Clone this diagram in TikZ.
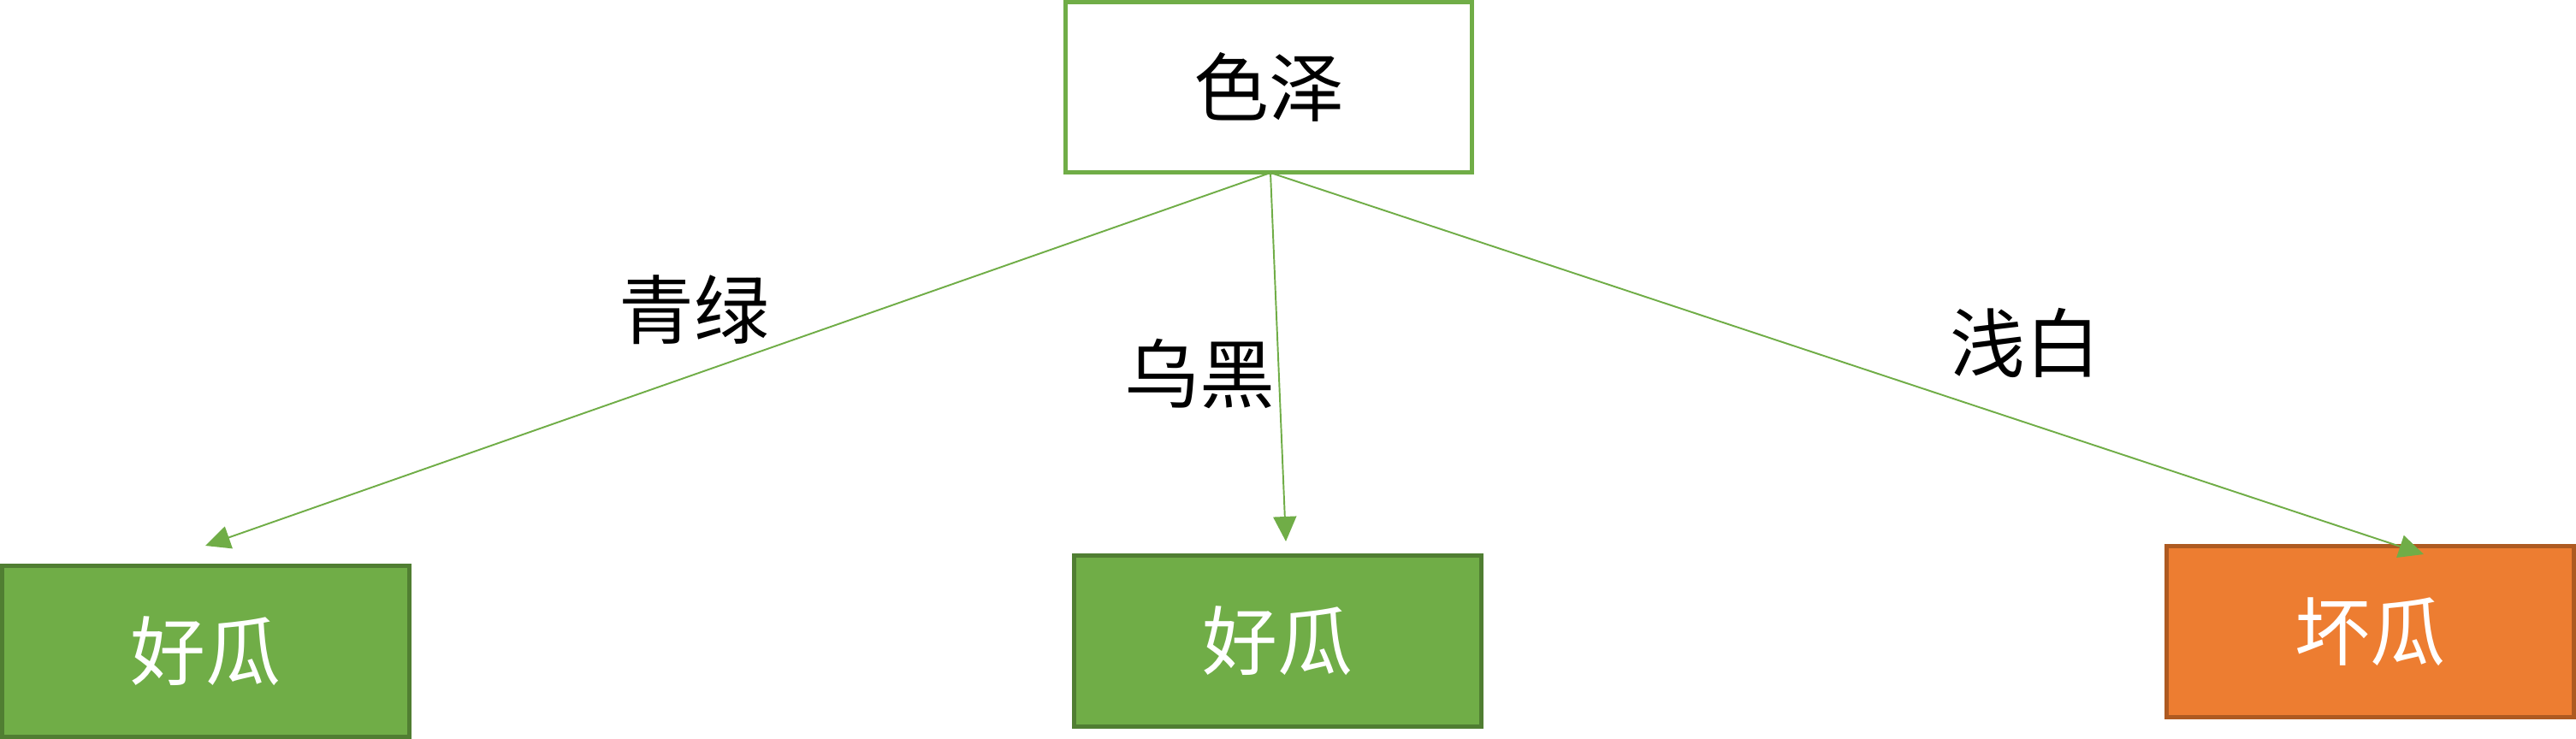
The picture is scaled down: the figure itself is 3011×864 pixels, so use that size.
\documentclass[tikz,border=0pt]{standalone}
\usepackage{fontspec}
\setmainfont{Noto Sans CJK SC}
\usetikzlibrary{arrows.meta}
\definecolor{ggreen}{HTML}{70AD47}
\definecolor{dgreen}{HTML}{507E32}
\definecolor{orng}{HTML}{ED7D31}
\definecolor{dorng}{HTML}{AE5A21}
\tikzset{
  box/.style={rectangle, inner sep=0pt, minimum width=4.76cm, minimum height=1.99cm, line width=1.42pt, font=\fontsize{25}{30}\selectfont},
  rootbox/.style={box, draw=ggreen, fill=white, minimum width=4.75cm},
  goodbox/.style={box, draw=dgreen, fill=ggreen, text=white},
  badbox/.style={box, draw=dorng, fill=orng, text=white},
  conn/.style={draw=ggreen, line width=0.55pt, -{Triangle[length=0.29cm, width=0.27cm]}},
  lbl/.style={inner sep=0pt, font=\fontsize{25}{30}\selectfont}
}
\begin{document}
\begin{tikzpicture}[x=0.01cm, y=-0.01cm]
\useasboundingbox (0,0) rectangle (3011,864);
\node[rootbox] (root) at (1483,102) {色泽};
\node[goodbox] (l) at (240.5,761.5) {好瓜};
\node[goodbox] (m) at (1493.5,749.5) {好瓜};
\node[badbox] (r) at (2770.5,738.5) {坏瓜};
\coordinate (s) at (1485,202);
\coordinate (lt) at (240,638);
\coordinate (mt) at (1503,633);
\coordinate (rt) at (2833,648);
\draw[conn] (s) -- (lt);
\draw[conn] (s) -- (mt);
\draw[conn] (s) -- (rt);
\node[lbl] (q) at (811,362) {青绿};
\node[lbl] (w) at (1402,437) {乌黑};
\node[lbl] (b) at (2367,401) {浅白};
\end{tikzpicture}
\end{document}
